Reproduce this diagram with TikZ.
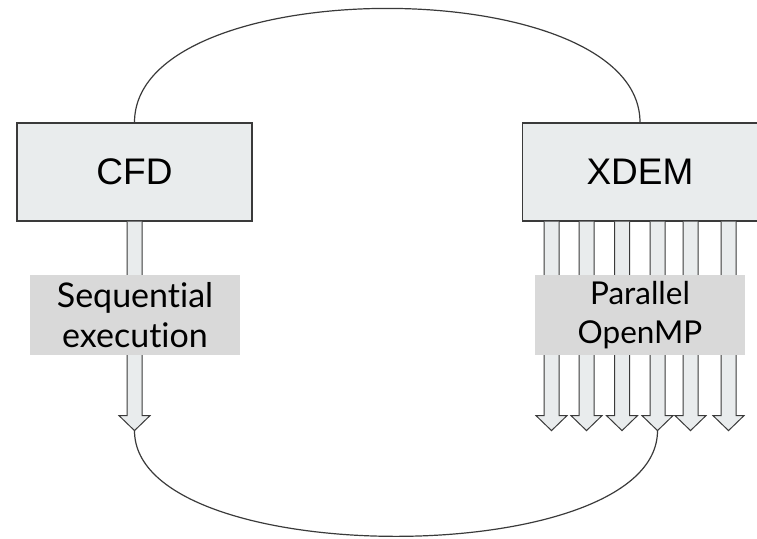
\documentclass[tikz,border=0pt]{standalone}
\usepackage{fontspec}
\setmainfont{Lato}[Ligatures=CommonOff]
\newfontfamily\arialfont{Liberation Sans}
\usetikzlibrary{calc}
\definecolor{boxfill}{HTML}{E9ECED}
\definecolor{labfill}{HTML}{D9D9D9}
\definecolor{edge}{HTML}{3A3A3A}
\begin{document}
\begin{tikzpicture}[x=1pt,y=-1pt,
  mainbox/.style={draw=edge,fill=boxfill,line width=1.2pt,minimum width=235pt,minimum height=98pt,inner sep=0pt,font=\arialfont\fontsize{37}{40}\selectfont},
  labelbox/.style={fill=labfill,minimum width=210pt,minimum height=80pt,inner sep=0pt,align=center},
  blockarrow/.style={draw=edge,fill=boxfill,line width=1pt,line join=miter},
  loopline/.style={draw=edge,line width=1.2pt},
  pics/blk/.style={code={\draw[blockarrow] (-7.5,0) -- (-7.5,194) -- (-15.5,194) -- (0,209) -- (15.5,194) -- (7.5,194) -- (7.5,0);}}]
\useasboundingbox (0,0) rectangle (757,538);
\node[mainbox] (cfd) at (134.5,172) {CFD};
\node[mainbox] (xdem) at (640,172) {XDEM};
% top loop
\draw[loopline] (cfd.north) .. controls +(0,-152) and +(0,-152) .. (xdem.north);
% arrows
\pic at (cfd.south) {blk};
\coordinate (ct) at ($(cfd.south)+(0,209)$);
\foreach \dx [count=\i] in {-88.5,-53.5,-18,17.5,50.5,88.5}{
  \pic at ($(xdem.south)+(\dx,0)$) {blk};
  \coordinate (xt\i) at ($(xdem.south)+(\dx,209)$);
}
% bottom loop
\draw[loopline] (ct) .. controls +(0,141) and +(0,141) .. (xt4);
% labels
\node[labelbox,font=\fontsize{34}{40}\selectfont] (seq) at (135,315) {Sequential\\execution};
\node[labelbox,font=\fontsize{31.5}{39}\selectfont] (par) at (640,315) {Parallel\\OpenMP};
\end{tikzpicture}
\end{document}
